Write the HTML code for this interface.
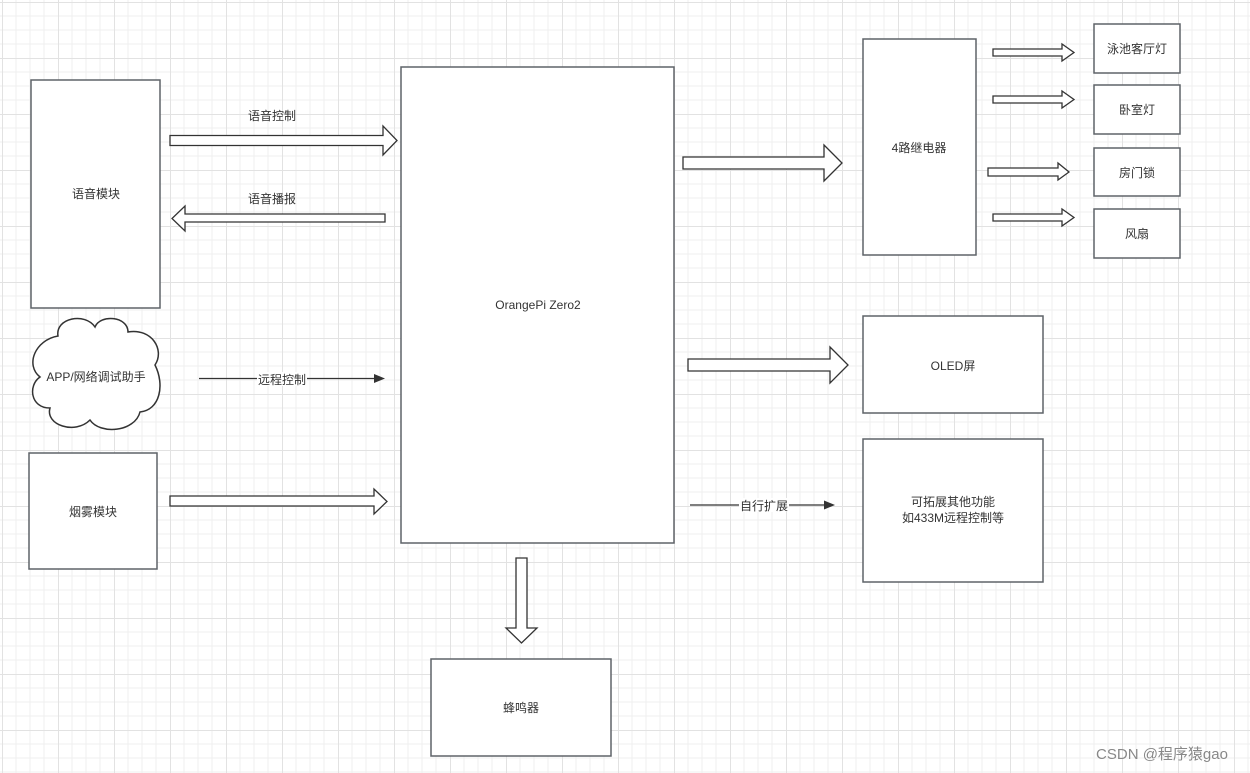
<!DOCTYPE html>
<html><head><meta charset="utf-8"><style>
html,body{margin:0;padding:0;background:#fff}
svg{display:block}
text{font-family:"Liberation Sans","Noto Sans CJK SC",sans-serif;font-size:12px;fill:#333}
</style></head><body>
<svg width="1250" height="773" xmlns="http://www.w3.org/2000/svg">
<defs>
<pattern id="g" x="2" y="2" width="56" height="56" patternUnits="userSpaceOnUse">
<path d="M14 0V56M28 0V56M42 0V56M0 14H56M0 28H56M0 42H56" stroke="#efefef" stroke-width="1" fill="none"/>
<path d="M0.5 0V56M0 0.5H56" stroke="#e2e2e2" stroke-width="1" fill="none"/>
</pattern>
</defs>
<rect width="1250" height="773" fill="url(#g)"/>
<g fill="#fff" stroke="#5f6368" stroke-width="1.5">
<rect x="31" y="80" width="129" height="228"/>
<rect x="29" y="453" width="128" height="116"/>
<rect x="401" y="67" width="273" height="476"/>
<rect x="431" y="659" width="180" height="97"/>
<rect x="863" y="39" width="113" height="216"/>
<rect x="1094" y="24" width="86" height="49"/>
<rect x="1094" y="85" width="86" height="49"/>
<rect x="1094" y="148" width="86" height="48"/>
<rect x="1094" y="209" width="86" height="49"/>
<rect x="863" y="316" width="180" height="97"/>
<rect x="863" y="439" width="180" height="143"/>
</g>
<path d="M58 336 C55 318 85 312 95 327 C100 314 128 316 128 332 C152 328 165 350 155 365 C165 385 160 410 140 412 C135 432 100 435 90 420 C75 435 45 425 50 408 C30 408 28 385 40 377 C25 365 35 340 58 336 Z" fill="#fff" stroke="#333" stroke-width="1.5"/>
<g fill="#fff" stroke="#333" stroke-width="1.3" stroke-linejoin="miter">
<polygon points="170,135.5 383,135.5 383,126 397,140.5 383,155 383,145.5 170,145.5"/>
<polygon points="385,214 185,214 185,206 172,218.5 185,231 185,222 385,222"/>
<polygon points="170,496 374,496 374,489 387,501.5 374,514 374,506 170,506"/>
<polygon points="683,157 824,157 824,145 842,163 824,181 824,169 683,169"/>
<polygon points="688,359 830,359 830,347 848,365 830,383 830,371 688,371"/>
<polygon points="516,558 527,558 527,628 537,628 521.5,643 506,628 516,628"/>
<polygon points="993,49 1062,49 1062,44 1074,52.5 1062,61 1062,56 993,56"/>
<polygon points="993,96 1062,96 1062,91 1074,99.5 1062,108 1062,103 993,103"/>
<polygon points="988,168 1058,168 1058,163 1069,172 1058,180 1058,176 988,176"/>
<polygon points="993,214 1062,214 1062,209 1074,217.5 1062,226 1062,221 993,221"/>
</g>
<g stroke="#333" stroke-width="1.2">
<line x1="199" y1="378.5" x2="374" y2="378.5"/>
<line x1="690" y1="505" x2="824" y2="505"/>
</g>
<polygon points="374,374 385,378.5 374,383" fill="#333"/>
<polygon points="824,500.5 835,505 824,509.5" fill="#333"/>
<rect x="257" y="372" width="50" height="14" fill="#fff"/>
<rect x="739" y="498" width="50" height="14" fill="#fff"/>
<g text-anchor="middle">
<text x="272" y="120">语音控制</text>
<text x="272" y="203">语音播报</text>
<text x="96" y="198">语音模块</text>
<text x="96" y="381">APP/网络调试助手</text>
<text x="282" y="384">远程控制</text>
<text x="93" y="516">烟雾模块</text>
<text x="538" y="309">OrangePi Zero2</text>
<text x="521" y="712">蜂鸣器</text>
<text x="919" y="152">4路继电器</text>
<text x="1137" y="53">泳池客厅灯</text>
<text x="1137" y="114">卧室灯</text>
<text x="1137" y="177">房门锁</text>
<text x="1137" y="238">风扇</text>
<text x="953" y="370">OLED屏</text>
<text x="764" y="510">自行扩展</text>
<text x="953" y="506">可拓展其他功能</text>
<text x="953" y="522">如433M远程控制等</text>
<text x="1162" y="759" style="font-size:15px;fill:#888">CSDN @程序猿gao</text>
</g>
</svg>
</body></html>
